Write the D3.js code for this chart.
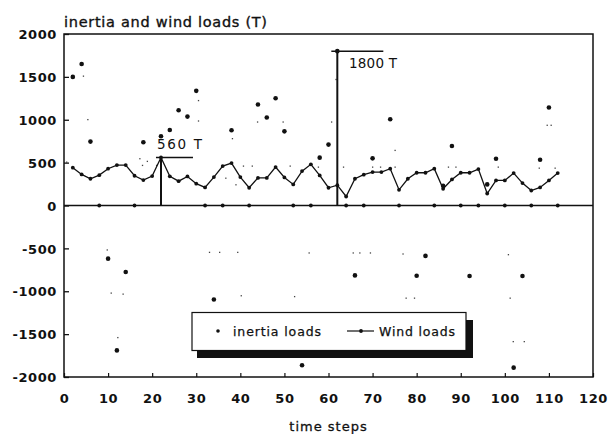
<!DOCTYPE html>
<html><head><meta charset="utf-8">
<script src="https://cdn.jsdelivr.net/npm/d3@7"></script>
<style>
html,body{margin:0;padding:0;background:#fff;}
svg{display:block;}
text{font-family:"DejaVu Sans",sans-serif;fill:#111;}
</style></head>
<body>
<svg id="c" width="608" height="434"></svg>
<script>
// ---- data ----
const windT = [2,4,6,8,10,12,14,16,18,20,22,24,26,28,30,32,34,36,38,40,42,44,46,48,50,52,54,56,58,60,62,64,66,68,70,72,74,76,78,80,82,84,86,88,90,92,94,96,98,100,102,104,106,108,110,112];
const windV = [441,362,312,354,429,471,471,347,296,343,560,340,284,339,254,211,331,460,495,331,207,322,322,448,327,246,401,480,351,207,237,105,312,359,390,390,429,183,312,382,382,429,195,304,382,382,425,140,292,292,378,261,175,211,292,378];
const inertiaT = [2,4,6,10,12,14,18,22,24,26,28,30,34,38,44,46,48,50,54,58,60,62,66,70,74,80,82,86,88,92,96,98,102,104,108,110];
const inertiaV = [1500,1650,745,-620,-1690,-776,737,807,881,1111,1037,1337,-1096,877,1178,1026,1251,865,-1863,558,710,1800,-815,550,1006,-819,-588,230,694,-822,246,546,-1891,-822,534,1143];
const zeroT = [8,16,32,36,42,52,56,64,68,76,84,90,94,100,106,112];
const minorT = [0.6,4.4,5.4,17.2,17.8,18.9,21,30.5,30.5,36.7,38.2,39,40.7,42.7,43.9,49.7,51.3,57.7,60.7,61.7,63.4,70,71.8,75.1,75.1,87.2,88.9,98.5,107.8,109.6,110.5,111.4,
  9.8,10.7,12.2,13.4,33,35.3,39.4,40.2,52.3,55.6,65.6,67.1,69.5,76.9,77.6,79.5,100.8,101.2,101.9,104.4];
const minorV = [506,1509,1002,546,468,515,468,1224,986,319,780,242,460,460,974,974,460,448,974,1470,448,448,448,448,643,448,448,448,436,936,936,436,
  -518,-1021,-1540,-1033,-546,-546,-546,-1052,-1062,-553,-553,-553,-553,-565,-1080,-1080,-573,-1080,-1587,-1587];
const xTicks = [0,10,20,30,40,50,60,70,80,90,100,110,120];
const yTicks = [2000,1500,1000,500,0,-500,-1000,-1500,-2000];
const annotations = [{t:22, v:560, label:"560 T"}, {t:62, v:1800, label:"1800 T"}];
const titleText = "inertia and wind loads (T)";
const xLabel = "time steps";
const legendLabels = ["inertia loads", "Wind loads"];

// ---- layout ----
const svg = d3.select("#c");
const L = 64, R = 593, T = 34, B = 377;
const x = d3.scaleLinear().domain([0,120]).range([L,R]);
const y = d3.scaleLinear().domain([-2000,2000]).range([B,T]);
const ink = "#111";

// title
svg.append("text").attr("x", L).attr("y", 27)
  .attr("font-size", 14.5).attr("stroke", ink).attr("stroke-width", 0.35)
  .attr("textLength", 203).attr("lengthAdjust","spacing").text(titleText);

// frame
svg.append("rect").attr("x",L).attr("y",T).attr("width",R-L).attr("height",B-T)
  .attr("fill","none").attr("stroke",ink).attr("stroke-width",1.5);

// y axis
const yAxis = d3.axisLeft(y).tickValues(yTicks).tickSize(-5).tickPadding(7)
  .tickFormat(d => d < 0 ? "-" + Math.abs(d) : String(d));
const gy = svg.append("g").attr("transform",`translate(${L},0)`).call(yAxis);
gy.select(".domain").remove();
gy.selectAll("line").attr("stroke",ink).attr("stroke-width",1.3);
gy.selectAll("text").attr("font-size",13).attr("font-weight","bold").attr("fill",ink)
  .attr("letter-spacing",0.6).attr("dy","0.36em");

// x axis
const xAxis = d3.axisBottom(x).tickValues(xTicks).tickSize(-4).tickPadding(17);
const gx = svg.append("g").attr("transform",`translate(0,${B})`).call(xAxis);
gx.select(".domain").remove();
gx.selectAll("line").attr("stroke",ink).attr("stroke-width",1.2);
gx.selectAll("text").attr("font-size",13).attr("font-weight","bold").attr("fill",ink)
  .attr("letter-spacing",0.6).attr("dy","0.71em");

// x label
svg.append("text").attr("x",(L+R)/2).attr("y",431).attr("text-anchor","middle")
  .attr("font-size",13).attr("stroke",ink).attr("stroke-width",0.3)
  .attr("letter-spacing",1).text(xLabel);

// zero line
svg.append("line").attr("x1",L).attr("x2",R).attr("y1",y(0)).attr("y2",y(0))
  .attr("stroke",ink).attr("stroke-width",1.5);
svg.append("g").selectAll("circle").data(zeroT).join("circle")
  .attr("cx",d=>x(d)).attr("cy",y(0)).attr("r",1.9).attr("fill",ink);

// minor faint dots
svg.append("g").selectAll("rect").data(minorT.map((t,i)=>[t,minorV[i]])).join("rect")
  .attr("x",d=>x(d[0])-0.6).attr("y",d=>y(d[1])-0.6).attr("width",1.3).attr("height",1.3)
  .attr("fill","#444");

// annotations
const barExt = [[-5,32],[-6,46]];
annotations.forEach((a,i) => {
  svg.append("line").attr("x1",x(a.t)).attr("x2",x(a.t)).attr("y1",y(0)).attr("y2",y(a.v))
    .attr("stroke",ink).attr("stroke-width",2);
  svg.append("line").attr("x1",x(a.t)+barExt[i][0]).attr("x2",x(a.t)+barExt[i][1]).attr("y1",y(a.v)).attr("y2",y(a.v))
    .attr("stroke",ink).attr("stroke-width",1.5);
});
svg.append("text").attr("x",157).attr("y",149).attr("font-size",13.5)
  .attr("textLength",45).attr("lengthAdjust","spacing").text(annotations[0].label);
svg.append("text").attr("x",349).attr("y",68).attr("font-size",13.5)
  .attr("textLength",48).attr("lengthAdjust","spacing").text(annotations[1].label);

// wind line
const windPts = windT.map((t,i)=>[t,windV[i]]);
svg.append("path").datum(windPts)
  .attr("d", d3.line().x(d=>x(d[0])).y(d=>y(d[1])))
  .attr("fill","none").attr("stroke",ink).attr("stroke-width",1.3);
svg.append("g").selectAll("circle").data(windPts).join("circle")
  .attr("cx",d=>x(d[0])).attr("cy",d=>y(d[1])).attr("r",1.9).attr("fill",ink);

// inertia dots
svg.append("g").selectAll("circle").data(inertiaT.map((t,i)=>[t,inertiaV[i]])).join("circle")
  .attr("cx",d=>x(d[0])).attr("cy",d=>y(d[1])).attr("r",2.3).attr("fill",ink);

// legend
const lg = svg.append("g");
lg.append("rect").attr("x",197).attr("y",350).attr("width",276).attr("height",8).attr("fill",ink);
lg.append("rect").attr("x",466).attr("y",320).attr("width",7).attr("height",38).attr("fill",ink);
lg.append("rect").attr("x",192).attr("y",312.5).attr("width",274).attr("height",38)
  .attr("fill","#fff").attr("stroke",ink).attr("stroke-width",1.2);
lg.append("circle").attr("cx",218).attr("cy",331).attr("r",1.8).attr("fill",ink);
lg.append("text").attr("x",233).attr("y",336).attr("font-size",12.5)
  .attr("stroke",ink).attr("stroke-width",0.25)
  .attr("textLength",88).attr("lengthAdjust","spacing").text(legendLabels[0]);
lg.append("line").attr("x1",347).attr("x2",374).attr("y1",331).attr("y2",331)
  .attr("stroke",ink).attr("stroke-width",1.2);
lg.append("circle").attr("cx",361).attr("cy",331).attr("r",1.9).attr("fill",ink);
lg.append("text").attr("x",379).attr("y",336).attr("font-size",12.5)
  .attr("stroke",ink).attr("stroke-width",0.25)
  .attr("textLength",76).attr("lengthAdjust","spacing").text(legendLabels[1]);
</script>
</body></html>
